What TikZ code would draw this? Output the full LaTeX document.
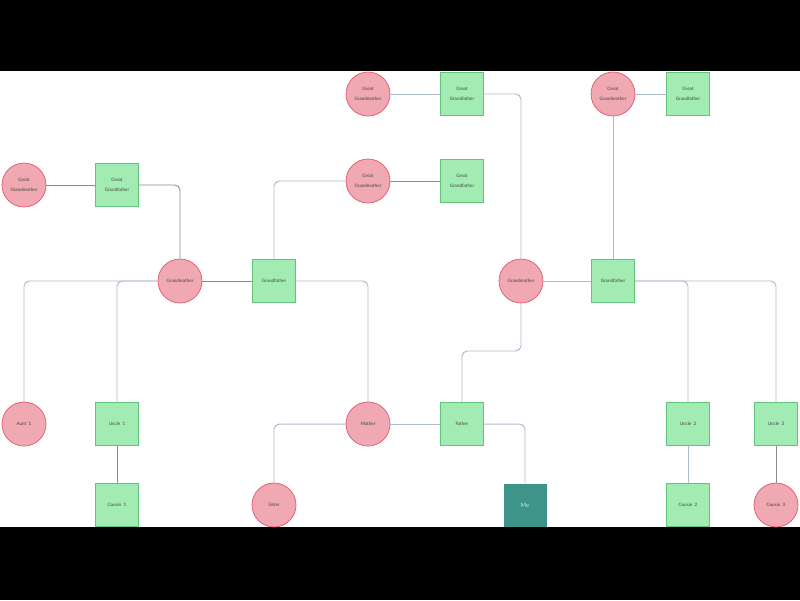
\documentclass[tikz,border=0pt]{standalone}
\usepackage{fontspec}
\setmainfont{Lato}
\definecolor{femfill}{HTML}{F0A9B2}
\definecolor{femline}{HTML}{E3566E}
\definecolor{malefill}{HTML}{A2ECB4}
\definecolor{maleline}{HTML}{62C47A}
\definecolor{mefill}{HTML}{3F9489}
\definecolor{linkblue}{HTML}{AEBBCE}
\definecolor{linkgrey}{HTML}{8C8C8C}
\begin{document}
\begin{tikzpicture}[x=0.02cm,y=-0.02cm,
    female/.style={circle,draw=femline,fill=femfill,minimum size=0.88cm,inner sep=0pt,align=center},
    male/.style={rectangle,draw=maleline,fill=malefill,minimum size=0.86cm,inner sep=0pt,align=center},
    link/.style={draw=linkblue,line width=0.55pt,rounded corners=3pt},
    glink/.style={draw=linkgrey,line width=0.5pt,rounded corners=3pt},
    font=\fontsize{2.6}{5.8}\selectfont,text=black!75]
    \fill[black] (0,0) rectangle (800,600);
    \fill[white] (0,71) rectangle (800,527);

    % great grandparents
    \node[female] (ggmA) at (24,185) {Great\\Grandmother};
    \node[male] (ggfA) at (117,185) {Great\\Grandfather};
    \node[female] (ggmB) at (368,94) {Great\\Grandmother};
    \node[male] (ggfB) at (462,94) {Great\\Grandfather};
    \node[female] (ggmC) at (368,181) {Great\\Grandmother};
    \node[male] (ggfC) at (462,181) {Great\\Grandfather};
    \node[female] (ggmD) at (613,94) {Great\\Grandmother};
    \node[male] (ggfD) at (688,94) {Great\\Grandfather};

    % grandparents
    \node[female] (gmL) at (180,281) {Grandmother};
    \node[male] (gfL) at (274,281) {Grandfather};
    \node[female] (gmR) at (521,281) {Grandmother};
    \node[male] (gfR) at (613,281) {Grandfather};

    % parents, aunts, uncles
    \node[female] (aunt1) at (24,424) {Aunt\ \ 1};
    \node[male] (uncle1) at (117,424) {Uncle\ \ 1};
    \node[female] (mother) at (368,424) {Mother};
    \node[male] (father) at (462,424) {Father};
    \node[male] (uncle2) at (688,424) {Uncle\ \ 2};
    \node[male] (uncle3) at (776,424) {Uncle\ \ 3};

    % children
    \node[male] (cousin1) at (117,505) {Cousin\ \ 1};
    \node[female] (sister) at (274,505) {Sister};
    \node[rectangle,fill=mefill,minimum size=0.86cm,text=white!75!mefill,font=\fontsize{3.4}{4}\selectfont] (me) at (525,505) {Me};
    \node[male] (cousin2) at (688,505) {Cousin\ \ 2};
    \node[female] (cousin3) at (776,505) {Cousin\ \ 3};

    \draw[glink] (ggmA) -- (ggfA);
    \draw[glink] (ggfA.east) -| (gmL.north);
    \draw[link] (ggmB) -- (ggfB);
    \draw[link] (ggfB.east) -| (gmR.north);
    \draw[glink] (ggmC) -- (ggfC);
    \draw[link] (gfL.north) |- (ggmC.west);
    \draw[link] (ggmD) -- (ggfD);
    \draw[link] (ggmD) -- (gfR);

    \draw[glink] (gmL) -- (gfL);
    \draw[link] (gmL.west) -| (aunt1.north);
    \draw[link] (gmL.west) -| (uncle1.north);
    \draw[link] (gfL.east) -| (mother.north);
    \draw[link] (gmR) -- (gfR);
    \draw[link] (gmR.south) -- (gmR.south |- 0,351) -| (father.north);
    \draw[link] (gfR.east) -| (uncle2.north);
    \draw[link] (gfR.east) -| (uncle3.north);

    \draw[glink] (uncle1) -- (cousin1);
    \draw[link] (mother.west) -| (sister.north);
    \draw[link] (mother) -- (father);
    \draw[link] (father.east) -| (me.north);
    \draw[link] (uncle2) -- (cousin2);
    \draw[glink] (uncle3) -- (cousin3);
\end{tikzpicture}
\end{document}
